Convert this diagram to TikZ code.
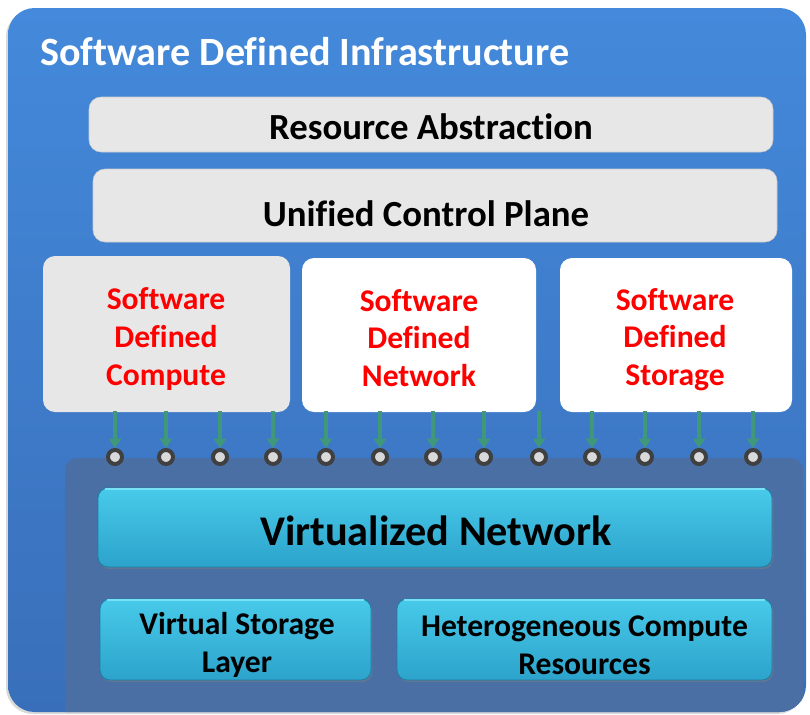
\documentclass[tikz,border=0pt]{standalone}
\usepackage{fontspec}
\setmainfont{Carlito}[Ligatures={NoCommon}]
\usetikzlibrary{arrows.meta,shadows}
\definecolor{outerTop}{RGB}{68,137,219}
\definecolor{outerBot}{RGB}{57,111,186}
\definecolor{panelcol}{RGB}{73,111,165}
\definecolor{boxgray}{RGB}{231,231,231}
\definecolor{cyanTop}{RGB}{72,202,234}
\definecolor{cyanBot}{RGB}{44,163,203}
\definecolor{cyanEdge}{RGB}{30,125,165}
\definecolor{cyanHi}{RGB}{120,225,245}
\definecolor{arrowgreen}{RGB}{64,152,122}
\definecolor{ringcol}{RGB}{64,64,64}
\definecolor{dotfill}{RGB}{217,217,217}
\newcommand\fTitle{\fontsize{30.1}{34}\selectfont\bfseries}
\newcommand\fBar{\fontsize{27.6}{32}\selectfont\bfseries}
\newcommand\fMid{\fontsize{23.7}{28.3}\selectfont\bfseries}
\newcommand\fBig{\fontsize{31.7}{36}\selectfont\bfseries}
\tikzset{
  graybox/.style={fill=boxgray, draw=boxgray!88!black, line width=0.4pt, rounded corners=9pt, inner sep=0pt},
  whitebox/.style={fill=white, rounded corners=9pt, inner sep=0pt},
  sdtext/.style={text=red, font=\fMid, align=center},
  cyanbox/.style={top color=cyanTop, bottom color=cyanBot, draw=cyanEdge, line width=0.6pt,
    rounded corners=7.5pt, inner sep=0pt,
    drop shadow={shadow xshift=1pt, shadow yshift=-1.5pt, opacity=0.45}},
  lbl/.style={font=\fMid, align=center, inner sep=0pt},
  dot/.style={circle, draw=ringcol, fill=dotfill, line width=3pt, minimum size=10.5pt, inner sep=0pt},
  feed/.style={draw=arrowgreen, line width=3pt, -{Triangle[width=9pt,length=7pt]}},
}
\begin{document}
\begin{tikzpicture}[x=0.75pt,y=-0.75pt]
\useasboundingbox (0,0) rectangle (810,714);
% outer frame
\path[drop shadow={shadow xshift=-1.5pt, shadow yshift=-1.5pt, opacity=0.3}]
  [top color=outerTop, bottom color=outerBot, rounded corners=20pt] (8,8) rectangle (806,712);
\begin{scope}
  \clip[rounded corners=20pt] (8,8) rectangle (806,712);
  \fill[panelcol, rounded corners=9pt] (65,458) rectangle (803,730);
\end{scope}
\node[anchor=base west, text=white, font=\fTitle, inner sep=0pt] (title) at (40,65) {Software Defined Infrastructure};

% top bars
\node[graybox, minimum width=513pt, minimum height=41.25pt] (ra) at (431,124.5) {};
\node[font=\fBar, inner sep=0pt] (rat) at (431,127) {Resource Abstraction};
\node[graybox, minimum width=513pt, minimum height=54.75pt] (ucp) at (435,205.5) {};
\node[font=\fBar, inner sep=0pt] (ucpt) at (426,214) {Unified Control Plane};

% software defined boxes
\node[graybox, draw=none, minimum width=185.25pt, minimum height=117pt] (cmp) at (166.5,334) {};
\node[sdtext] (cmpt) at (166,339) {Software\\Defined\\Compute};
\node[whitebox, minimum width=175.5pt, minimum height=115.5pt] (net) at (419,335) {};
\node[sdtext] (nett) at (419,338) {Software\\Defined\\Network};
\node[whitebox, minimum width=174pt, minimum height=115.5pt] (sto) at (676,335) {};
\node[sdtext] (stot) at (675,339.5) {Software\\Defined\\Storage};

% connection points
\foreach \x [count=\i] in {115,166,220,273,326,380,433,484,539,592,645,699,753} {
  \node[dot] (c\i) at (\x,457) {};
  \coordinate (s\i) at (\x,411);
  \draw[feed] (s\i) -- (c\i);
}

% virtualized layer
\node[cyanbox, minimum width=505.5pt, minimum height=59.25pt] (vn) at (435,527.5) {};
\draw[cyanHi, line width=1.2pt, line cap=round] ([xshift=6pt,yshift=-1.2pt]vn.north west) -- ([xshift=-6pt,yshift=-1.2pt]vn.north east);
\node[font=\fBig, inner sep=0pt] (vnt) at (436,531) {Virtualized Network};
\node[cyanbox, minimum width=203.25pt, minimum height=60.75pt] (vsl) at (235.5,639.5) {};
\draw[cyanHi, line width=1.2pt, line cap=round] ([xshift=6pt,yshift=-1.2pt]vsl.north west) -- ([xshift=-6pt,yshift=-1.2pt]vsl.north east);
\node[lbl] (vslt) at (237,645) {Virtual Storage\\Layer};
\node[cyanbox, minimum width=281.25pt, minimum height=60.75pt] (het) at (584.5,639.5) {};
\draw[cyanHi, line width=1.2pt, line cap=round] ([xshift=6pt,yshift=-1.2pt]het.north west) -- ([xshift=-6pt,yshift=-1.2pt]het.north east);
\node[lbl] (hett) at (584.5,645) {Heterogeneous Compute\\Resources};
\end{tikzpicture}
\end{document}
